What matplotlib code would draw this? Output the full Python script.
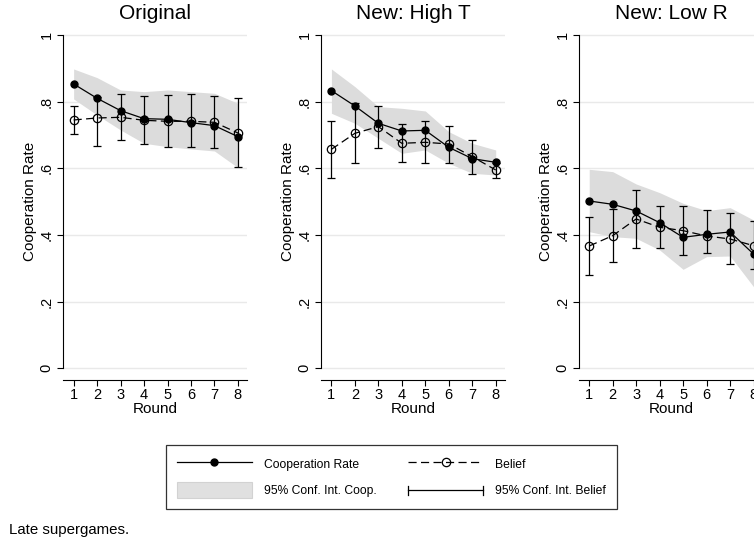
import matplotlib
matplotlib.use("Agg")
import matplotlib.pyplot as plt
from matplotlib.lines import Line2D
from matplotlib.patches import Patch
from matplotlib.legend_handler import HandlerBase

plt.rcParams['font.family'] = ['Liberation Sans', 'DejaVu Sans']

# Cooperation rate and elicited belief by round, late supergames
rounds = [1, 2, 3, 4, 5, 6, 7, 8]
panel_titles = ["Original", "New: High T", "New: Low R"]

orig_coop = [0.853, 0.810, 0.773, 0.749, 0.747, 0.737, 0.728, 0.695]
orig_coop_lo = [0.808, 0.760, 0.715, 0.675, 0.665, 0.658, 0.652, 0.602]
orig_coop_hi = [0.898, 0.872, 0.835, 0.830, 0.835, 0.830, 0.825, 0.795]
orig_belief = [0.745, 0.751, 0.753, 0.744, 0.741, 0.741, 0.738, 0.706]
orig_belief_lo = [0.703, 0.667, 0.686, 0.672, 0.664, 0.663, 0.660, 0.603]
orig_belief_hi = [0.787, 0.813, 0.824, 0.818, 0.820, 0.822, 0.817, 0.810]

hight_coop = [0.833, 0.787, 0.735, 0.712, 0.714, 0.663, 0.629, 0.618]
hight_coop_lo = [0.765, 0.735, 0.690, 0.645, 0.655, 0.615, 0.585, 0.580]
hight_coop_hi = [0.898, 0.845, 0.785, 0.780, 0.772, 0.710, 0.675, 0.655]
hight_belief = [0.657, 0.705, 0.725, 0.675, 0.678, 0.673, 0.635, 0.595]
hight_belief_lo = [0.571, 0.615, 0.662, 0.620, 0.617, 0.617, 0.584, 0.570]
hight_belief_hi = [0.743, 0.797, 0.788, 0.733, 0.742, 0.728, 0.686, 0.617]

lowr_coop = [0.502, 0.492, 0.472, 0.437, 0.393, 0.402, 0.409, 0.343]
lowr_coop_lo = [0.410, 0.395, 0.390, 0.355, 0.297, 0.335, 0.337, 0.245]
lowr_coop_hi = [0.597, 0.590, 0.553, 0.527, 0.495, 0.473, 0.482, 0.445]
lowr_belief = [0.367, 0.398, 0.448, 0.423, 0.413, 0.397, 0.388, 0.368]
lowr_belief_lo = [0.281, 0.320, 0.362, 0.360, 0.340, 0.345, 0.312, 0.297]
lowr_belief_hi = [0.454, 0.478, 0.534, 0.488, 0.488, 0.476, 0.466, 0.442]

y_ticks = [0, 0.2, 0.4, 0.6, 0.8, 1]
y_ticklabels = ["0", ".2", ".4", ".6", ".8", "1"]

panels = [
    (orig_coop, orig_coop_lo, orig_coop_hi, orig_belief, orig_belief_lo, orig_belief_hi),
    (hight_coop, hight_coop_lo, hight_coop_hi, hight_belief, hight_belief_lo, hight_belief_hi),
    (lowr_coop, lowr_coop_lo, lowr_coop_hi, lowr_belief, lowr_belief_lo, lowr_belief_hi),
]

BAND = '#dcdcdc'
GRID = '#e9e9e9'
LW = 0.9
DASH = (6.5, 3.5)


class CappedLineHandler(HandlerBase):
    """Legend key: horizontal bar with end caps, like an error bar on its side."""
    def create_artists(self, legend, orig_handle, xdescent, ydescent,
                       width, height, fontsize, trans):
        y = height / 2 - ydescent
        x0, x1 = -xdescent, width - xdescent
        cap = 3.2
        arts = [
            Line2D([x0, x1], [y, y], color='black', lw=LW),
            Line2D([x0, x0], [y - cap, y + cap], color='black', lw=LW),
            Line2D([x1, x1], [y - cap, y + cap], color='black', lw=LW),
        ]
        for a in arts:
            a.set_transform(trans)
        return arts


W, H = 754, 542
fig = plt.figure(figsize=(W / 100, H / 100), dpi=100)

ax_w = 184 / W
ax_bottom = (H - 370) / H
ax_h = (370 - 33.3) / H

for i, (title, data) in enumerate(zip(panel_titles, panels)):
    coop, coop_lo, coop_hi, belief, belief_lo, belief_hi = data
    left = (63.3 + 257.8 * i) / W
    ax = fig.add_axes([left, ax_bottom, ax_w, ax_h])

    ax.fill_between(rounds, coop_lo, coop_hi, color=BAND, lw=0, zorder=1)

    err_lo = [b - lo for b, lo in zip(belief, belief_lo)]
    err_hi = [hi - b for b, hi in zip(belief, belief_hi)]
    ax.errorbar(rounds, belief, yerr=[err_lo, err_hi], fmt='none',
                ecolor='black', elinewidth=LW, capsize=2.9, capthick=LW, zorder=2)

    ax.plot(rounds, belief, color='black', lw=LW, dashes=DASH,
            marker='o', ms=6, mfc='none', mec='black', mew=LW, zorder=3)
    ax.plot(rounds, coop, color='black', lw=LW,
            marker='o', ms=5, mfc='black', mec='black', zorder=4)

    ax.set_xlim(0.56, 8.4)
    ax.set_ylim(-0.005, 1.005)
    ax.set_xticks(rounds)
    ax.set_yticks(y_ticks)
    ax.set_yticklabels(y_ticklabels, rotation=90, va='center')
    ax.yaxis.grid(True, color=GRID, lw=1.0, zorder=0)
    ax.set_axisbelow(True)

    for s in ('top', 'right'):
        ax.spines[s].set_visible(False)
    ax.spines['bottom'].set_position(('outward', 7.2))
    ax.spines['left'].set_bounds(0, 1)
    ax.spines['left'].set_linewidth(0.8)
    ax.spines['bottom'].set_linewidth(0.8)
    ax.tick_params(axis='both', direction='out', length=4.3, width=0.8,
                   labelsize=10.5)
    ax.tick_params(axis='x', pad=1.5)
    ax.tick_params(axis='y', pad=2.5)

    ax.set_title(title, fontsize=15, pad=10)
    ax.set_xlabel("Round", fontsize=11, labelpad=0)
    ax.set_ylabel("Cooperation Rate", fontsize=11, labelpad=2)

coop_key = Line2D([], [], color='black', lw=LW, marker='o', ms=5, mfc='black')
belief_key = Line2D([], [], color='black', lw=LW, dashes=DASH,
                    marker='o', ms=6, mfc='none', mew=LW)
band_key = Patch(facecolor='#e0e0e0', edgecolor='#d2d2d2', lw=0.8)
bar_key = object()

leg = fig.legend(
    [coop_key, band_key, belief_key, bar_key],
    ["Cooperation Rate", "95% Conf. Int. Coop.", "Belief", "95% Conf. Int. Belief"],
    handler_map={bar_key: CappedLineHandler()},
    loc='center', bbox_to_anchor=(391.5 / W, (H - 477) / H),
    ncol=2, fontsize=8.7, frameon=True, fancybox=False, framealpha=1,
    edgecolor='#333333', handlelength=6.2, handleheight=1.7,
    handletextpad=1.0, columnspacing=2.6, labelspacing=0.85,
    borderpad=0.9, borderaxespad=0,
)
leg.get_frame().set_linewidth(0.9)

fig.text(9 / W, (H - 530) / H, "Late supergames.", fontsize=10.8, va='center', ha='left')

fig.savefig("out.png", dpi=100, facecolor='white')
